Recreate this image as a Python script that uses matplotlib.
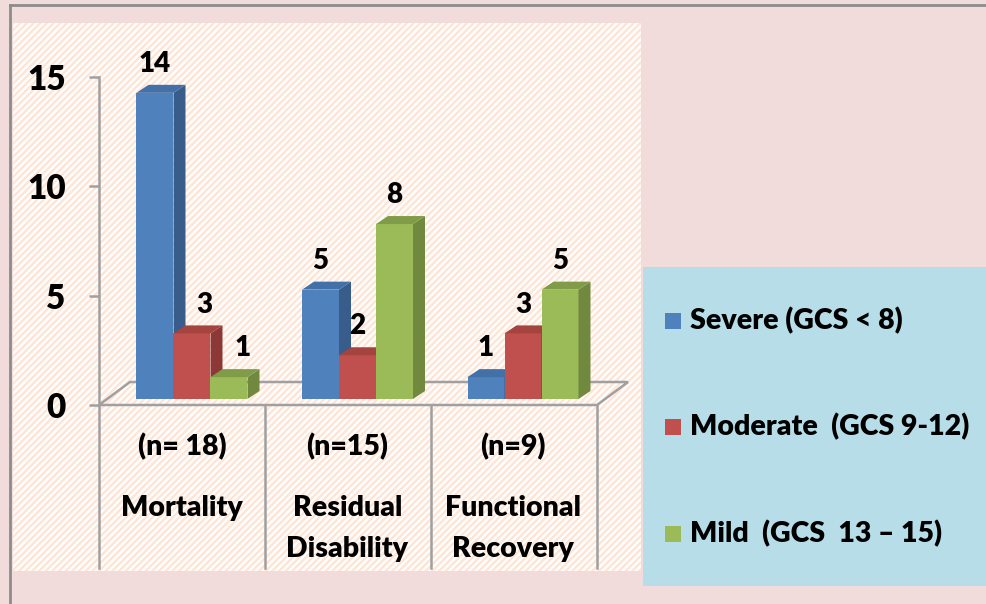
import matplotlib
matplotlib.use("Agg")
import matplotlib.pyplot as plt
from matplotlib.patches import Rectangle, Polygon
import numpy as np

plt.rcParams['font.family'] = ['Lato', 'DejaVu Sans']
plt.rcParams['hatch.linewidth'] = 1.6

# ---- data ----
categories = ["Mortality", "Residual\nDisability", "Functional\nRecovery"]
group_n = ["(n= 18)", "(n=15)", "(n=9)"]
series_names = ["Severe (GCS < 8)", "Moderate  (GCS 9-12)", "Mild  (GCS  13 \u2013 15)"]
severe = [14, 5, 1]
moderate = [3, 2, 3]
mild = [1, 8, 5]
yticks = [0, 5, 10, 15]

series = [severe, moderate, mild]
front_cols = ["#4F81BD", "#C0504D", "#9BBB59"]
side_cols = ["#385D8A", "#8C3836", "#71893F"]
top_cols = ["#4470A8", "#A5433F", "#809C48"]
FW = "heavy"

W, H = 987, 604
fig = plt.figure(figsize=(W / 100, H / 100), dpi=100)
fig.patch.set_facecolor("#F2DCDB")

def fx(px):
    return px / W

def fy(py):  # py from top
    return 1 - py / H

# outer border lines
fig.add_artist(plt.Line2D([fx(10), fx(10)], [fy(5), 0], color="#8C8C8C", lw=2.0, zorder=-5))
fig.add_artist(plt.Line2D([fx(10), 1], [fy(5), fy(5)], color="#8C8C8C", lw=2.0, zorder=-5))

# hatched plot area
fig.add_artist(Rectangle((fx(13), fy(571)), fx(641 - 13), (571 - 23) / H,
                         transform=fig.transFigure, facecolor="#FDE6D6",
                         edgecolor="#FFFFFF", lw=0, hatch="/////", zorder=-5))

# legend box
fig.add_artist(Rectangle((fx(643), fy(586)), fx(987 - 643), (586 - 267) / H,
                         transform=fig.transFigure, facecolor="#B7DDE8",
                         edgecolor="none", zorder=-5))

# ---- geometry ----
ppu = 21.87            # pixels per value unit
grp = 165.5            # pixels per category
x0_px = 192            # pixel x of first group front-center
bar_bottom_px = 399
ax_left_px, ax_right_px = 99, 628

ax = fig.add_axes([fx(ax_left_px), fy(bar_bottom_px), fx(ax_right_px - ax_left_px), 15 * ppu / H])
ax.set_xlim((ax_left_px - x0_px) / grp, (ax_right_px - x0_px) / grp)
ax.set_ylim(0, 15)
ax.axis("off")

def px2dx(p):
    return p / grp

def px2dy(p):
    return p / ppu

bw = px2dx(37)
ddx, ddy = px2dx(12), px2dy(8)

# floor
fl_front = px2dy(bar_bottom_px - 405)
fl_back = px2dy(bar_bottom_px - 382)
floor = [((99 - x0_px) / grp, fl_front), ((597 - x0_px) / grp, fl_front),
         ((628 - x0_px) / grp, fl_back), ((130 - x0_px) / grp, fl_back)]
ax.add_patch(Polygon(floor, closed=True, facecolor="none", edgecolor="#A0A0A0",
                     lw=1.8, clip_on=False, zorder=1))

# dividers below the floor
for px in [99, 265, 431, 597]:
    xd = (px - x0_px) / grp
    ax.plot([xd, xd], [fl_front, px2dy(bar_bottom_px - 568)], color="#A0A0A0",
            lw=1.8, clip_on=False, zorder=1)

# bars
x = np.arange(len(categories))
offsets = [-1, 0, 1]
label_dx_px = {(1, 0): 12, (2, 0): 14}
for s, vals in enumerate(series):
    xs = x + offsets[s] * bw
    ax.bar(xs, vals, width=bw, color=front_cols[s], edgecolor="none",
           zorder=3 + s, clip_on=False)
    for i, (xc, v) in enumerate(zip(xs, vals)):
        l, r = xc - bw / 2, xc + bw / 2
        side = [(r, 0), (r + ddx, ddy), (r + ddx, v + ddy), (r, v)]
        top = [(l, v), (r, v), (r + ddx, v + ddy), (l + ddx, v + ddy)]
        ax.add_patch(Polygon(side, closed=True, facecolor=side_cols[s],
                             edgecolor="none", zorder=3 + s, clip_on=False))
        ax.add_patch(Polygon(top, closed=True, facecolor=top_cols[s],
                             edgecolor="none", zorder=3 + s, clip_on=False))
        ax.annotate(str(v), (xc, v), xytext=(label_dx_px.get((s, i), 0) * 0.72, 15),
                    textcoords="offset points", ha="center", va="baseline",
                    fontsize=20, fontweight=FW, color="black", zorder=10)

# category labels
for i, (cat, n) in enumerate(zip(categories, group_n)):
    xc = (182 + i * grp - x0_px) / grp
    ax.text(xc, px2dy(bar_bottom_px - 447), n, ha="center", va="center",
            fontsize=20.5, fontweight=FW, clip_on=False)
    lines = cat.split("\n")
    for j, ln in enumerate(lines):
        ax.text(xc, px2dy(bar_bottom_px - (508 + 41 * j)), ln, ha="center",
                va="center", fontsize=20.5, fontweight=FW, clip_on=False)

# y axis
axy = fig.add_axes([fx(99), fy(405), 0.001, 15 * ppu / H])
axy.set_ylim(0, 15)
axy.set_facecolor("none")
for sp in ["top", "right", "bottom"]:
    axy.spines[sp].set_visible(False)
axy.spines["left"].set_color("#A0A0A0")
axy.spines["left"].set_linewidth(1.8)
axy.set_xticks([])
axy.set_yticks(yticks)
axy.set_yticklabels([str(t) for t in yticks], fontsize=24, fontweight=FW)
axy.tick_params(axis="y", length=7, width=1.8, color="#A0A0A0", pad=17)

# legend
for k, (name, col) in enumerate(zip(series_names, front_cols)):
    yy = [321, 427, 534][k]
    fig.add_artist(Rectangle((fx(665), fy(yy + 8)), fx(16), 16 / H,
                             transform=fig.transFigure, facecolor=col, edgecolor="none"))
    fig.text(fx(690), fy(yy), name, ha="left", va="center", fontsize=20.5,
             fontweight=FW)

fig.savefig("out.png", dpi=100, facecolor=fig.get_facecolor())
